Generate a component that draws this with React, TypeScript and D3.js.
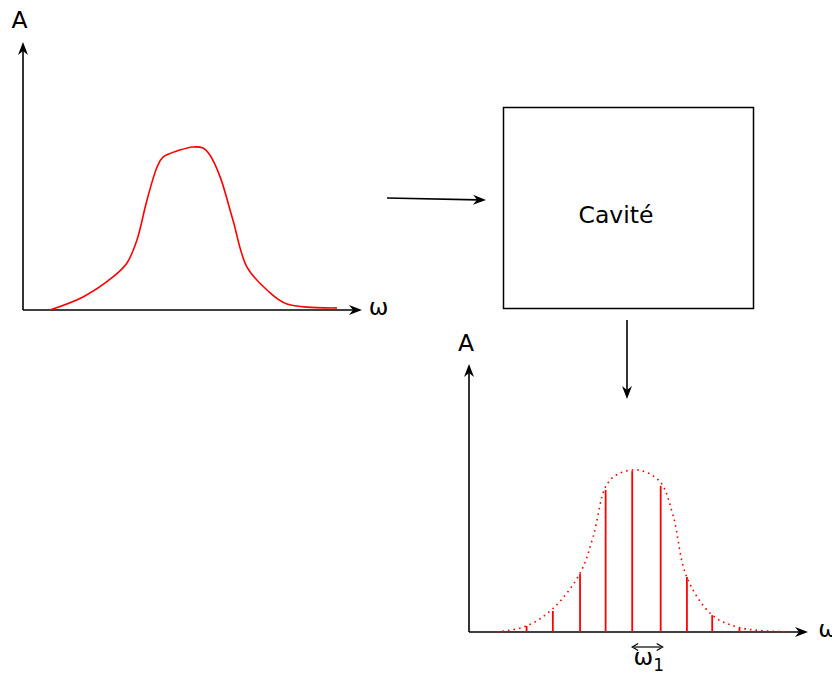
import React from "react";
import * as d3 from "d3";

// input spectrum (left plot), omega / amplitude in arbitrary units 0..100
const inOmega = [8.4, 18.75, 28.1, 32.5, 35.6, 38.75, 41.9, 43.75, 49, 53.1, 56.25, 58.4, 61.6, 65.6, 70, 76.25, 82.5, 98.1];
const inAmp = [0, 5, 12.7, 18.1, 26.9, 42.3, 55, 58.8, 61.5, 62.7, 62.3, 59.6, 51.2, 34.6, 16.5, 7.7, 2.3, 0.8];

// envelope of output spectrum (bottom plot)
const envOmega = [8.7, 18, 26.3, 34.7, 38.8, 42.7, 46.2, 52.9, 59.7, 63.8, 68, 76, 84.7, 98.75];
const envAmp = [0, 2.3, 9.1, 22.6, 36.7, 55.9, 60.5, 62.3, 57.8, 44.7, 21.3, 6.5, 1.65, 0.1];

// cavity modes
const modeOmega = [18, 26.2, 34.7, 42.7, 51, 59.9, 68.1, 76, 84.5];
const modeAmp = [2.3, 8.1, 22.3, 54.6, 61.9, 56.2, 21.2, 6.5, 1.5];

const FONT = "DejaVu Sans, sans-serif";
const FS = 23.5;

const arrowHead = "M0,0 L-13,-5 L-9,0 L-13,5 Z";

function Arrow({ x1, y1, x2, y2, w = 1.6 }: { x1: number; y1: number; x2: number; y2: number; w?: number }) {
  const ang = (Math.atan2(y2 - y1, x2 - x1) * 180) / Math.PI;
  const dx = Math.cos((ang * Math.PI) / 180) * 8;
  const dy = Math.sin((ang * Math.PI) / 180) * 8;
  return (
    <g>
      <line x1={x1} y1={y1} x2={x2 - dx} y2={y2 - dy} stroke="#000" strokeWidth={w} />
      <path d={arrowHead} transform={`translate(${x2},${y2}) rotate(${ang})`} fill="#000" />
    </g>
  );
}

function Plot({ ox, oy, children }: { ox: number; oy: number; children?: React.ReactNode }) {
  return (
    <g>
      <Arrow x1={ox} y1={oy} x2={ox} y2={oy - 268} />
      <Arrow x1={ox} y1={oy} x2={ox + 339} y2={oy} />
      {children}
    </g>
  );
}

export default function App() {
  const x1 = d3.scaleLinear().domain([0, 100]).range([23, 343]);
  const y1 = d3.scaleLinear().domain([0, 100]).range([310, 50]);
  const x2 = d3.scaleLinear().domain([0, 100]).range([469, 789]);
  const y2 = d3.scaleLinear().domain([0, 100]).range([632, 372]);

  const inPts = inOmega.map((o, i) => [o, inAmp[i]] as [number, number]);
  const envPts = envOmega.map((o, i) => [o, envAmp[i]] as [number, number]);

  const line1 = d3.line<[number, number]>().x((d) => x1(d[0])).y((d) => y1(d[1])).curve(d3.curveCatmullRom);
  const line2 = d3.line<[number, number]>().x((d) => x2(d[0])).y((d) => y2(d[1])).curve(d3.curveCatmullRom);

  const w1a = x2(modeOmega[4]);
  const w1b = x2(modeOmega[5]) + 2;

  return (
    <svg width={832} height={673} style={{ position: "absolute", left: 0, top: 0 }}>
      <rect width={832} height={673} fill="#fff" />
      {/* input spectrum */}
      <Plot ox={23} oy={310}>
        <path d={line1(inPts) || ""} fill="none" stroke="#ff0000" strokeWidth={1.6} />
      </Plot>
      <text x={19.5} y={28} fontFamily={FONT} fontSize={FS} textAnchor="middle">A</text>
      <text x={378.5} y={315} fontFamily={FONT} fontSize={FS} textAnchor="middle">ω</text>

      {/* arrow into cavity */}
      <Arrow x1={387} y1={198} x2={486} y2={200} />

      {/* cavity */}
      <rect x={503.5} y={107.5} width={250} height={201} fill="none" stroke="#000" strokeWidth={1.5} />
      <text x={616} y={223} fontFamily={FONT} fontSize={FS} textAnchor="middle">Cavité</text>

      {/* arrow out of cavity */}
      <Arrow x1={627} y1={320} x2={627} y2={399} />

      {/* output spectrum */}
      <Plot ox={469} oy={632}>
        <path d={line2(envPts) || ""} fill="none" stroke="#ff0000" strokeWidth={1.6} strokeDasharray="1.6,4" />
        {modeOmega.map((o, i) => (
          <line key={i} x1={x2(o)} x2={x2(o)} y1={y2(0)} y2={y2(modeAmp[i])} stroke="#ff0000" strokeWidth={1.8} />
        ))}
      </Plot>
      <text x={466} y={351} fontFamily={FONT} fontSize={FS} textAnchor="middle">A</text>
      <text x={828} y={637} fontFamily={FONT} fontSize={FS} textAnchor="middle">ω</text>

      {/* mode spacing */}
      <line x1={w1a + 2} x2={w1b - 2} y1={647} y2={647} stroke="#000" strokeWidth={1.2} />
      <path d={`M${w1a + 6},643.5 L${w1a},647 L${w1a + 6},650.5 M${w1b - 6},643.5 L${w1b},647 L${w1b - 6},650.5`} stroke="#000" strokeWidth={1.2} fill="none" />
      <text x={633.5} y={665} fontFamily={FONT} fontSize={FS}>
        ω<tspan fontSize={17} dy={5.5}>1</tspan>
      </text>
    </svg>
  );
}
